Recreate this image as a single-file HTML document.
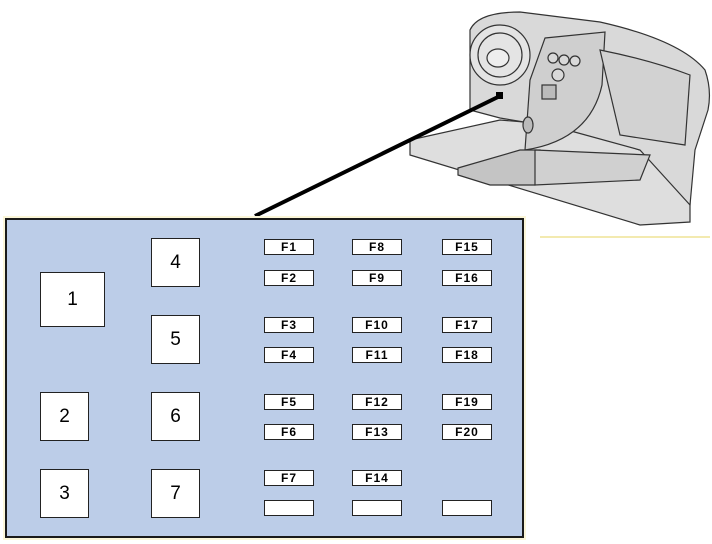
<!DOCTYPE html>
<html><head><style>
body{margin:0;width:712px;height:544px;background:#fff;position:relative;overflow:hidden;font-family:"Liberation Sans",Arial,sans-serif}
.p{position:absolute;left:5px;top:218px;width:515px;height:316px;background:#bccde8;border:2px solid #1a1a1a;box-shadow:0 0 0 2px #fbf6d8}
.b{position:absolute;background:#fff;border:1px solid #222;box-sizing:border-box;display:flex;align-items:center;justify-content:center;font-size:19px}
.f{position:absolute;background:#fff;border:1px solid #222;box-sizing:border-box;width:50px;height:16px;font-size:12px;font-weight:bold;display:flex;align-items:center;justify-content:center;letter-spacing:1px}
</style></head><body>
<svg width="712" height="544" style="position:absolute;left:0;top:0">
<g stroke="#333" stroke-width="1.2" fill="#d9d9d9">
<path d="M410 140 L500 120 L560 125 L640 150 L690 200 L690 222 L640 225 L410 155 Z" fill="#dedede"/>
<path d="M470 30 Q478 12 520 12 L600 22 Q680 40 705 70 Q712 90 708 110 L695 150 L690 205 L640 150 L560 128 L500 118 L470 110 Z"/>
<path d="M545 38 L605 32 L602 85 Q590 140 525 150 L530 80 Z" fill="#cfcfcf"/>
<path d="M600 50 Q650 60 690 75 L685 145 L620 135 Z" fill="#d2d2d2"/>
<path d="M520 150 L540 150 L535 185 L490 185 L458 175 L458 168 Z" fill="#c4c4c4"/>
<path d="M535 150 L650 155 L640 180 L535 185 Z" fill="#d0d0d0"/>
<circle cx="500" cy="55" r="30" fill="#e4e4e4"/>
<circle cx="500" cy="55" r="22" fill="none"/>
<ellipse cx="498" cy="58" rx="11" ry="9" fill="#eee"/>
<circle cx="553" cy="58" r="5"/><circle cx="564" cy="60" r="5"/><circle cx="575" cy="61" r="5"/>
<circle cx="558" cy="75" r="6"/>
<rect x="542" y="85" width="14" height="14" fill="#bbb"/>
<ellipse cx="528" cy="125" rx="5" ry="8" fill="#bbb"/>
</g>
<line x1="255" y1="216" x2="500" y2="96" stroke="#000" stroke-width="4"/>
<rect x="496" y="92" width="7" height="7" fill="#000"/>
<line x1="540" y1="237" x2="710" y2="237" stroke="#f3eab0" stroke-width="2"/>
</svg>
<div class="p"></div>
<div class="b" style="left:40px;top:272px;width:65px;height:55px">1</div>
<div class="b" style="left:40px;top:392px;width:49px;height:49px">2</div>
<div class="b" style="left:40px;top:469px;width:49px;height:49px">3</div>
<div class="b" style="left:151px;top:238px;width:49px;height:49px">4</div>
<div class="b" style="left:151px;top:315px;width:49px;height:49px">5</div>
<div class="b" style="left:151px;top:392px;width:49px;height:49px">6</div>
<div class="b" style="left:151px;top:469px;width:49px;height:49px">7</div>
<div class="f" style="left:264px;top:239px">F1</div>
<div class="f" style="left:264px;top:270px">F2</div>
<div class="f" style="left:264px;top:317px">F3</div>
<div class="f" style="left:264px;top:347px">F4</div>
<div class="f" style="left:264px;top:394px">F5</div>
<div class="f" style="left:264px;top:424px">F6</div>
<div class="f" style="left:264px;top:470px">F7</div>
<div class="f" style="left:264px;top:500px"></div>
<div class="f" style="left:352px;top:239px">F8</div>
<div class="f" style="left:352px;top:270px">F9</div>
<div class="f" style="left:352px;top:317px">F10</div>
<div class="f" style="left:352px;top:347px">F11</div>
<div class="f" style="left:352px;top:394px">F12</div>
<div class="f" style="left:352px;top:424px">F13</div>
<div class="f" style="left:352px;top:470px">F14</div>
<div class="f" style="left:352px;top:500px"></div>
<div class="f" style="left:442px;top:239px">F15</div>
<div class="f" style="left:442px;top:270px">F16</div>
<div class="f" style="left:442px;top:317px">F17</div>
<div class="f" style="left:442px;top:347px">F18</div>
<div class="f" style="left:442px;top:394px">F19</div>
<div class="f" style="left:442px;top:424px">F20</div>
<div class="f" style="left:442px;top:500px"></div>
</body></html>
